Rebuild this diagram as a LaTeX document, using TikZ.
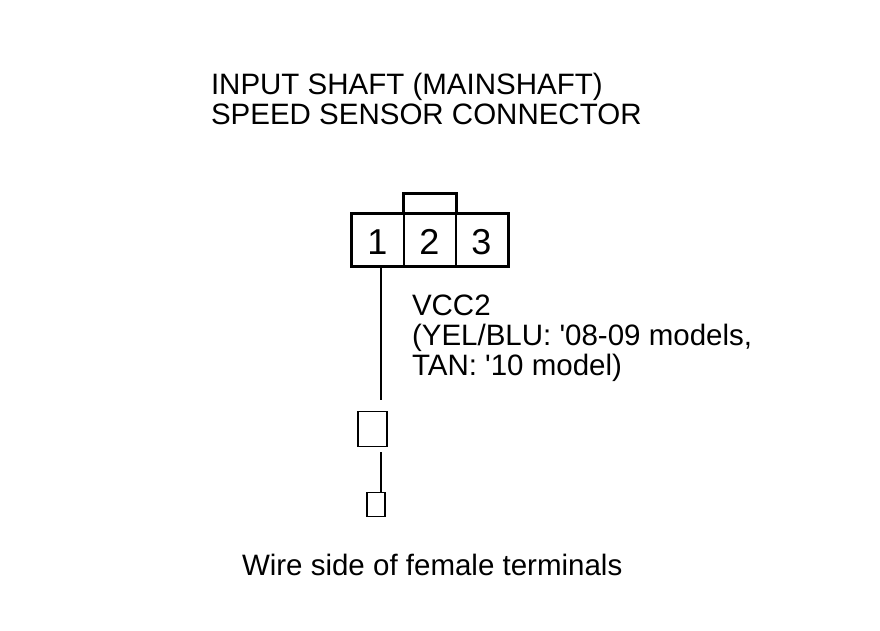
\documentclass[tikz,border=0pt]{standalone}
\usepackage{fontspec}
\newfontfamily\plainsans{Liberation Sans}
\tikzset{
  lbl/.style={anchor=base west,inner sep=0pt,outer sep=0pt,font=\plainsans\fontsize{29.5}{33}\selectfont},
  pin/.style={anchor=base,inner sep=0pt,outer sep=0pt,font=\plainsans\fontsize{36}{36}\selectfont},
  thick box/.style={draw=black,line width=3pt,fill=white},
  thin box/.style={draw=black,line width=1.2pt,fill=white,inner sep=0pt,outer sep=0pt,minimum width=0pt},
  wire/.style={draw=black,line width=1.7pt},
}
\begin{document}
\begin{tikzpicture}[x=1pt,y=-1pt]
\useasboundingbox (0,0) rectangle (880,630);
\fill[white] (0,0) rectangle (880,630);
% tab and shell
\draw[thick box] (403.5,212) -- (403.5,193.5) -- (456.5,193.5) -- (456.5,212);
\draw[thick box] (351.5,213.5) rectangle (508,266);
\draw[black,line width=2pt] (403.5,213) -- (403.5,266);
\draw[black,line width=2pt] (456,213) -- (456,266);
\node[pin] (p1) at (377.5,254) {1};
\node[pin] (p2) at (429.5,254) {2};
\node[pin] (p3) at (481.5,254) {3};
\coordinate (w1) at (381,267);
\coordinate (w2) at (381,400);
\coordinate (w3) at (381,452);
\node[thin box,minimum width=29pt,minimum height=35pt] (t1) at (372.5,429) {};
\node[thin box,minimum width=18pt,minimum height=24pt] (t2) at (376,504.5) {};
\draw[wire] (w1) -- (w2);
\draw[wire] (w3) -- (w3 |- t2.north);
\node[lbl] (a) at (211,94.5) {INPUT SHAFT (MAINSHAFT)};
\node[lbl] (b) at (211,124.5) {SPEED SENSOR CONNECTOR};
\node[lbl] (c) at (412,315) {VCC2};
\node[lbl] (d) at (412,345.5) {(YEL/BLU: '08-09 models,};
\node[lbl] (e) at (412,375) {TAN: '10 model)};
\node[lbl] (f) at (242,575) {Wire side of female terminals};
\end{tikzpicture}
\end{document}
